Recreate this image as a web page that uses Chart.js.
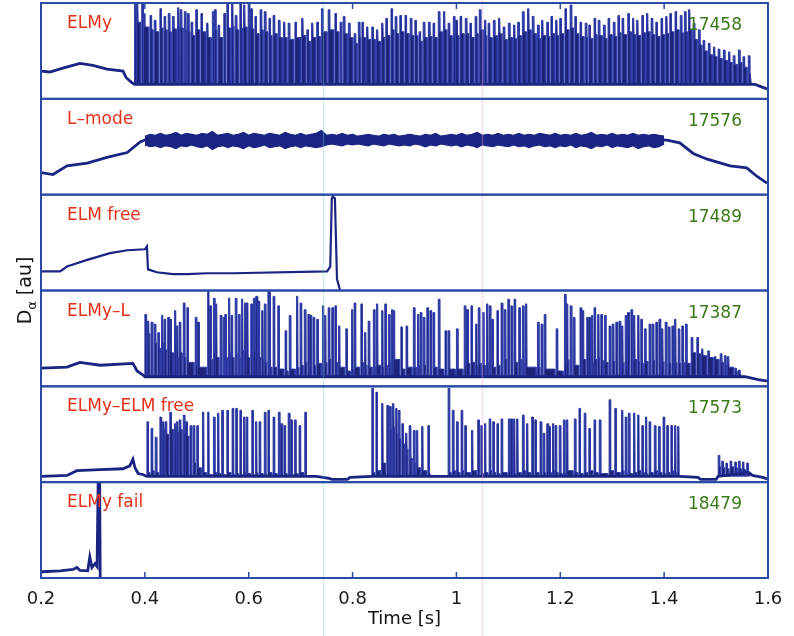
<!DOCTYPE html>
<html>
<head>
<meta charset="utf-8">
<script src="https://cdn.jsdelivr.net/npm/chart.js@4.4.1/dist/chart.umd.min.js"></script>
<style>
  html, body { margin: 0; padding: 0; background: #fff; }
  #wrap { width: 794px; height: 636px; }
</style>
</head>
<body>
<div id="wrap"><canvas id="shots" width="794" height="636"></canvas></div>
<script>
// time axis
const tickValues = [0.2, 0.4, 0.6, 0.8, 1.0, 1.2, 1.4, 1.6];
const tickLabels = ['0.2', '0.4', '0.6', '0.8', '1', '1.2', '1.4', '1.6'];

// panel captions, top to bottom
const panelNames = ['ELMy', 'L\u2013mode', 'ELM free', 'ELMy\u2013L', 'ELMy\u2013ELM free', 'ELMy fail'];
const shotNumbers = ['17458', '17576', '17489', '17387', '17573', '18479'];

// faint scanner streaks [s]
const scanLines = [0.743, 1.049];

// slow traces: [time ms, level 0..1 of panel]
const p1Slow = [[200,0.29],[217,0.28],[242,0.32],[275,0.37],[300,0.35],[327,0.31],[358,0.29],[364,0.22],[375,0.17],[380,0.15],[1566,0.15],[1575,0.15],[1590,0.12],[1600,0.10]];
const p2Slow = [[200,0.23],[223,0.21],[250,0.30],[289,0.33],[327,0.39],[366,0.44],[391,0.55],[404,0.58],[1405,0.57],[1430,0.54],[1456,0.43],[1483,0.37],[1527,0.30],[1559,0.28],[1579,0.19],[1598,0.12]];
const p3Trace = [[201,0.20],[237,0.20],[250,0.25],[289,0.32],[333,0.39],[366,0.42],[400,0.43],[404,0.46],[406,0.22],[423,0.19],[454,0.17],[481,0.17],[520,0.18],[570,0.18],[751,0.20],[757,0.25],[760,0.96],[762,0.98],[766,0.96],[770,0.12],[776,0.0]];
const p4Slow = [[201,0.19],[250,0.20],[275,0.25],[314,0.22],[377,0.24],[385,0.16],[396,0.12],[400,0.10],[1547,0.10],[1556,0.10],[1581,0.07],[1600,0.055]];
const p5Slow = [[201,0.06],[250,0.07],[269,0.12],[314,0.13],[358,0.14],[371,0.17],[377,0.24],[381,0.15],[387,0.09],[396,0.08],[404,0.06],[712,0.06],[730,0.06],[755,0.04],[760,0.03],[790,0.03],[795,0.05],[837,0.06],[1430,0.06],[1465,0.05],[1470,0.03],[1500,0.03],[1504,0.06],[1563,0.10],[1570,0.07],[1590,0.05],[1600,0.03]];
const p6Trace = [[201,0.065],[237,0.075],[262,0.09],[269,0.11],[275,0.08],[290,0.075],[294,0.22],[298,0.11],[304,0.15],[308,0.12],[310,1.0],[313,1.0],[314,0.0]];

// L-mode noisy band (ms, upper edge, lower edge)
const p2BandT = [400,410,420,430,440,450,460,470,480,490,500,510,520,530,540,550,560,570,580,590,600,610,620,630,640,650,660,670,680,690,700,710,720,730,740,750,760,770,780,790,800,810,820,830,840,850,860,870,880,890,900,910,920,930,940,950,960,970,980,990,1000,1010,1020,1030,1040,1050,1060,1070,1080,1090,1100,1110,1120,1130,1140,1150,1160,1170,1180,1190,1200,1210,1220,1230,1240,1250,1260,1270,1280,1290,1300,1310,1320,1330,1340,1350,1360,1370,1380,1390,1400];
const p2Upper = [0.61,0.63,0.62,0.64,0.62,0.63,0.65,0.62,0.64,0.63,0.62,0.64,0.63,0.66,0.62,0.63,0.64,0.62,0.63,0.65,0.62,0.64,0.63,0.62,0.64,0.63,0.62,0.65,0.63,0.62,0.64,0.62,0.63,0.64,0.67,0.62,0.63,0.62,0.64,0.62,0.63,0.61,0.62,0.63,0.62,0.61,0.63,0.62,0.63,0.61,0.62,0.63,0.62,0.61,0.63,0.62,0.64,0.61,0.62,0.63,0.62,0.64,0.62,0.63,0.65,0.62,0.63,0.62,0.64,0.62,0.63,0.62,0.64,0.62,0.63,0.62,0.64,0.63,0.62,0.64,0.62,0.63,0.62,0.64,0.62,0.63,0.65,0.62,0.63,0.62,0.64,0.62,0.63,0.62,0.64,0.62,0.63,0.62,0.63,0.62,0.61];
const p2Lower = [0.52,0.50,0.51,0.49,0.51,0.50,0.48,0.51,0.50,0.52,0.50,0.49,0.51,0.47,0.50,0.51,0.49,0.51,0.50,0.48,0.51,0.49,0.50,0.52,0.49,0.50,0.51,0.48,0.50,0.51,0.49,0.51,0.50,0.49,0.50,0.52,0.53,0.52,0.51,0.53,0.52,0.53,0.52,0.51,0.53,0.52,0.51,0.53,0.52,0.51,0.52,0.51,0.53,0.52,0.50,0.52,0.51,0.53,0.52,0.51,0.52,0.50,0.52,0.51,0.49,0.52,0.51,0.50,0.52,0.51,0.50,0.52,0.50,0.51,0.49,0.51,0.52,0.50,0.51,0.49,0.51,0.50,0.52,0.49,0.51,0.50,0.48,0.51,0.50,0.52,0.49,0.51,0.50,0.49,0.51,0.48,0.50,0.51,0.49,0.50,0.53];

// ELM bursts: time [ms], peak, level the trace sits at after the ELM
const p1Base = 0.15;
const p1Times = [380,384,394,397,410,418,429,437,445,453,463,468,476,482,489,498,508,519,530,534,541,552,558,567,574,583,590,599,604,612,622,630,639,647,657,667,676,689,702,712,721,731,740,753,766,776,782,792,803,811,818,827,837,846,856,864,874,882,891,901,911,920,928,936,946,955,965,975,984,994,999,1007,1017,1026,1036,1044,1054,1061,1071,1081,1090,1100,1110,1118,1127,1137,1146,1156,1164,1174,1182,1191,1199,1209,1219,1228,1238,1248,1255,1265,1273,1283,1292,1302,1311,1319,1330,1339,1347,1357,1366,1375,1384,1394,1403,1411,1421,1431,1439,1447,1456,1466,1475,1485,1495,1504,1514,1524,1533,1543,1552,1562];
const p1Peaks = [1.0,1.0,0.99,0.89,0.87,0.82,0.94,0.86,0.89,0.86,0.95,0.93,0.91,0.89,0.80,0.93,0.89,0.79,0.91,0.93,0.77,0.89,0.99,1.0,0.87,1.0,0.98,1.0,0.94,0.86,0.93,0.91,0.84,0.87,0.82,0.80,0.79,0.80,0.84,0.72,0.79,0.80,0.94,0.93,0.89,0.80,0.86,0.79,0.68,0.80,0.80,0.75,0.75,0.72,0.79,0.84,0.94,0.86,0.87,0.87,0.84,0.82,0.70,0.80,0.80,0.79,0.91,0.91,0.79,0.86,0.82,0.86,0.84,0.79,0.86,0.93,0.82,0.79,0.82,0.84,0.75,0.79,0.77,0.80,0.91,0.94,0.86,0.77,0.82,0.80,0.86,0.82,0.84,0.94,0.98,0.86,0.80,0.79,0.77,0.84,0.82,0.77,0.84,0.80,0.87,0.84,0.89,0.84,0.82,0.87,0.89,0.84,0.80,0.84,0.86,0.89,0.91,0.87,0.91,0.93,0.79,0.72,0.61,0.58,0.54,0.52,0.51,0.49,0.45,0.51,0.44,0.45];
const p1Mass = [0.80,0.80,0.78,0.75,0.72,0.70,0.74,0.72,0.70,0.73,0.76,0.74,0.72,0.70,0.66,0.72,0.70,0.64,0.70,0.72,0.64,0.70,0.74,0.76,0.72,0.74,0.75,0.76,0.73,0.68,0.72,0.70,0.66,0.68,0.64,0.64,0.62,0.64,0.66,0.60,0.64,0.65,0.70,0.72,0.70,0.66,0.68,0.64,0.58,0.64,0.64,0.62,0.62,0.60,0.64,0.66,0.72,0.68,0.70,0.68,0.66,0.66,0.60,0.64,0.65,0.64,0.70,0.72,0.66,0.68,0.66,0.68,0.68,0.64,0.68,0.72,0.66,0.64,0.66,0.68,0.62,0.64,0.63,0.66,0.70,0.72,0.68,0.63,0.66,0.65,0.68,0.66,0.68,0.72,0.74,0.68,0.65,0.64,0.63,0.67,0.66,0.63,0.67,0.65,0.69,0.67,0.70,0.67,0.66,0.69,0.70,0.67,0.65,0.67,0.68,0.70,0.72,0.69,0.70,0.72,0.62,0.56,0.50,0.46,0.44,0.42,0.40,0.38,0.36,0.38,0.33,0.30];

const p4Base = 0.10;
const p4Times = [400,405,412,418,425,432,437,444,448,457,461,466,474,481,497,502,521,525,532,536,545,551,554,561,566,574,580,586,592,596,604,609,614,618,625,630,637,639,647,656,670,678,692,699,707,714,718,724,731,742,746,753,760,766,773,787,798,803,816,823,830,840,846,856,862,869,875,878,893,903,917,925,930,936,943,949,955,965,978,984,1000,1015,1020,1028,1037,1042,1050,1058,1063,1068,1078,1086,1092,1099,1105,1111,1120,1127,1133,1156,1163,1169,1192,1208,1212,1219,1225,1238,1242,1251,1255,1260,1265,1272,1278,1285,1294,1300,1307,1313,1318,1325,1330,1336,1341,1349,1355,1362,1371,1377,1384,1390,1395,1402,1408,1415,1420,1427,1434,1441,1452,1463,1472,1484,1497,1508,1516,1522,1536,1543];
const p4Peaks = [0.75,0.68,0.67,0.65,0.56,0.74,0.70,0.72,0.70,0.79,0.63,0.67,0.87,0.82,0.72,0.67,0.99,0.84,0.92,0.86,0.74,0.72,0.75,0.92,0.74,0.92,0.75,0.91,0.87,0.87,0.86,0.92,0.94,0.89,0.79,0.86,0.99,0.98,0.94,0.84,0.58,0.74,0.94,0.87,0.80,0.75,0.74,0.72,0.70,0.84,0.74,0.82,0.82,0.84,0.63,0.60,0.80,0.87,0.86,0.56,0.68,0.80,0.86,0.79,0.86,0.75,0.80,0.79,0.62,0.63,0.82,0.75,0.77,0.72,0.82,0.79,0.77,0.91,0.58,0.58,0.60,0.84,0.80,0.84,0.65,0.82,0.77,0.86,0.84,0.70,0.79,0.87,0.80,0.91,0.84,0.91,0.82,0.84,0.86,0.67,0.65,0.75,0.60,0.96,0.86,0.84,0.72,0.82,0.79,0.72,0.72,0.74,0.82,0.75,0.75,0.74,0.63,0.65,0.67,0.68,0.63,0.74,0.77,0.80,0.74,0.74,0.70,0.60,0.65,0.65,0.67,0.70,0.60,0.67,0.62,0.63,0.70,0.60,0.63,0.65,0.51,0.51,0.39,0.37,0.31,0.34,0.32,0.31,0.19,0.17];
const p4Mass = [0.30,0.55,0.50,0.45,0.40,0.45,0.38,0.42,0.35,0.40,0.30,0.35,0.30,0.25,0.22,0.20,0.30,0.28,0.35,0.30,0.25,0.28,0.30,0.35,0.30,0.35,0.30,0.38,0.32,0.30,0.35,0.38,0.32,0.30,0.28,0.25,0.22,0.20,0.20,0.18,0.16,0.18,0.20,0.22,0.25,0.22,0.20,0.22,0.24,0.22,0.25,0.28,0.30,0.25,0.20,0.16,0.18,0.20,0.25,0.22,0.20,0.20,0.22,0.20,0.22,0.25,0.30,0.28,0.18,0.20,0.20,0.22,0.20,0.22,0.20,0.18,0.20,0.18,0.16,0.18,0.18,0.22,0.24,0.25,0.22,0.24,0.22,0.25,0.23,0.20,0.22,0.25,0.28,0.25,0.27,0.25,0.28,0.25,0.20,0.20,0.22,0.18,0.16,0.25,0.28,0.25,0.22,0.25,0.28,0.30,0.27,0.25,0.28,0.30,0.27,0.25,0.28,0.26,0.25,0.27,0.25,0.28,0.26,0.25,0.28,0.26,0.24,0.26,0.25,0.27,0.25,0.24,0.26,0.25,0.24,0.26,0.25,0.24,0.25,0.24,0.35,0.34,0.32,0.30,0.28,0.25,0.22,0.20,0.16,0.14];

const p5Base = 0.06;
const p5Times = [404,412,420,429,434,439,448,457,461,466,474,479,487,493,500,511,521,532,540,548,558,568,575,583,590,595,606,613,620,630,637,647,657,662,668,676,681,688,697,708,837,845,856,866,871,877,883,888,895,902,909,917,923,933,945,984,992,1000,1009,1016,1029,1041,1047,1054,1063,1070,1078,1086,1100,1105,1110,1116,1127,1135,1145,1151,1161,1167,1174,1178,1185,1190,1198,1206,1212,1227,1236,1246,1255,1265,1275,1294,1305,1318,1325,1331,1341,1349,1357,1364,1371,1381,1389,1398,1405,1413,1420,1426,1504,1511,1519,1527,1536,1543,1551,1559];
const p5Peaks = [0.63,0.56,0.47,0.68,0.63,0.63,0.73,0.61,0.63,0.65,0.70,0.63,0.59,0.59,0.59,0.73,0.73,0.68,0.72,0.75,0.75,0.77,0.77,0.75,0.68,0.68,0.75,0.63,0.63,0.73,0.75,0.68,0.73,0.61,0.59,0.72,0.65,0.65,0.59,0.73,0.98,0.94,0.82,0.80,0.79,0.82,0.77,0.75,0.61,0.51,0.59,0.54,0.54,0.58,0.59,0.98,0.75,0.63,0.75,0.59,0.54,0.65,0.59,0.61,0.66,0.63,0.61,0.66,0.66,0.66,0.66,0.66,0.70,0.61,0.68,0.65,0.63,0.51,0.61,0.58,0.61,0.59,0.59,0.65,0.65,0.66,0.77,0.72,0.56,0.65,0.65,0.86,0.77,0.75,0.68,0.72,0.72,0.70,0.59,0.68,0.63,0.59,0.58,0.68,0.59,0.59,0.59,0.58,0.28,0.22,0.20,0.22,0.21,0.22,0.21,0.20];
const p5Mass = [0.10,0.12,0.10,0.55,0.55,0.50,0.55,0.50,0.52,0.55,0.50,0.48,0.30,0.20,0.15,0.10,0.08,0.10,0.09,0.08,0.10,0.08,0.09,0.08,0.10,0.09,0.08,0.10,0.09,0.08,0.10,0.09,0.08,0.10,0.09,0.10,0.08,0.09,0.10,0.08,0.10,0.12,0.20,0.35,0.55,0.57,0.50,0.45,0.40,0.35,0.25,0.20,0.15,0.12,0.10,0.10,0.12,0.10,0.12,0.10,0.12,0.10,0.09,0.10,0.12,0.10,0.09,0.10,0.12,0.10,0.09,0.10,0.12,0.10,0.09,0.10,0.12,0.10,0.09,0.10,0.12,0.10,0.09,0.10,0.12,0.10,0.09,0.10,0.12,0.10,0.09,0.12,0.10,0.12,0.10,0.09,0.10,0.12,0.10,0.09,0.10,0.12,0.10,0.09,0.10,0.12,0.10,0.08,0.16,0.15,0.14,0.16,0.15,0.14,0.13,0.12];

// colours
const NAVY = '#1b2483';
const SPIKE = '#2f3ca8';
const MASS = '#1d2377';
const FRAME = '#2b4aa6';
const RED = '#e5301c';
const GREEN = '#3a7a18';

const ELM_W = 0.0025;  // width of an ELM flash, s
const SLIT = 0.0025;   // short quiet gap before each ELM, s

function pairs(list) {
  return list.map(p => ({ x: p[0] / 1000, y: p[1] }));
}

function band(times, vals) {
  return times.map((t, i) => ({ x: t / 1000, y: vals[i] }));
}

// turn ELM list into a polyline: rise, flash, burst level, quiet slit before next one
function elmPoints(times, peaks, mass, base) {
  const pts = [];
  for (let i = 0; i < times.length; i++) {
    const t = times[i] / 1000;
    pts.push({ x: t, y: base }, { x: t, y: peaks[i] }, { x: t + ELM_W, y: peaks[i] }, { x: t + ELM_W + 0.0005, y: mass[i] });
    const next = times[i + 1];
    if (next === undefined) {
      pts.push({ x: t + 0.006, y: base });
      break;
    }
    if (next - times[i] > 30) {
      pts.push({ x: t + 0.006, y: base }, { x: t + 0.007, y: null });
      continue;
    }
    const s = Math.max(t + ELM_W + 0.001, next / 1000 - SLIT);
    pts.push({ x: s, y: mass[i] }, { x: s, y: base });
  }
  return pts;
}

const panelIds = ['y1', 'y2', 'y3', 'y4', 'y5', 'y6'];

const yScales = {};
panelIds.forEach((id, i) => {
  yScales[id] = {
    type: 'linear',
    position: 'left',
    stack: 'panels',
    stackWeight: 1,
    weight: panelIds.length - i,
    min: 0,
    max: 1,
    display: false
  };
});

const slowLine = { borderColor: NAVY, borderWidth: 2.8, fill: false };
const elmLine = { borderColor: SPIKE, borderWidth: 1, backgroundColor: MASS };

const datasets = [
  Object.assign({ data: pairs(p1Slow), yAxisID: 'y1' }, slowLine),
  Object.assign({ data: elmPoints(p1Times, p1Peaks, p1Mass, p1Base), yAxisID: 'y1', fill: { value: p1Base } }, elmLine),
  { data: band(p2BandT, p2Upper), yAxisID: 'y2', borderColor: NAVY, borderWidth: 1.2, backgroundColor: NAVY, fill: '+1' },
  { data: band(p2BandT, p2Lower), yAxisID: 'y2', borderColor: NAVY, borderWidth: 1.2, fill: false },
  Object.assign({ data: pairs(p2Slow), yAxisID: 'y2' }, slowLine),
  Object.assign({ data: pairs(p3Trace), yAxisID: 'y3' }, slowLine, { borderWidth: 2.2 }),
  Object.assign({ data: pairs(p4Slow), yAxisID: 'y4' }, slowLine),
  Object.assign({ data: elmPoints(p4Times, p4Peaks, p4Mass, p4Base), yAxisID: 'y4', fill: { value: p4Base } }, elmLine),
  Object.assign({ data: pairs(p5Slow), yAxisID: 'y5' }, slowLine),
  Object.assign({ data: elmPoints(p5Times, p5Peaks, p5Mass, p5Base), yAxisID: 'y5', fill: { value: p5Base } }, elmLine),
  Object.assign({ data: pairs(p6Trace), yAxisID: 'y6' }, slowLine)
];

const panelDecor = {
  id: 'panelDecor',
  afterDatasetsDraw(chart) {
    const { ctx, chartArea: a, scales } = chart;
    const x = scales.x;
    ctx.save();

    // scanner streaks
    ctx.lineWidth = 1.5;
    scanLines.forEach((t, i) => {
      const px = Math.round(x.getPixelForValue(t)) + 0.5;
      ctx.strokeStyle = i === 0 ? 'rgba(110,200,200,0.35)' : 'rgba(220,160,220,0.35)';
      ctx.beginPath();
      ctx.moveTo(px, 0);
      ctx.lineTo(px, chart.height);
      ctx.stroke();
    });

    // panel frames and captions
    ctx.strokeStyle = FRAME;
    ctx.lineWidth = 2;
    panelIds.forEach((id, i) => {
      const s = scales[id];
      ctx.strokeRect(a.left, s.top, a.right - a.left, s.bottom - s.top);
      ctx.font = '17px "DejaVu Sans"';
      ctx.textBaseline = 'alphabetic';
      ctx.fillStyle = RED;
      ctx.textAlign = 'left';
      ctx.fillText(panelNames[i], a.left + 26, s.top + 25);
      ctx.fillStyle = GREEN;
      ctx.textAlign = 'right';
      ctx.fillText(shotNumbers[i], a.right - 26, s.top + 27);
    });

    // inward ticks on outer edges
    const top = scales.y1.top;
    const bottom = scales.y6.bottom;
    ctx.lineWidth = 1.5;
    ctx.beginPath();
    tickValues.slice(1, -1).forEach(v => {
      const px = x.getPixelForValue(v);
      ctx.moveTo(px, top);
      ctx.lineTo(px, top + 6);
      ctx.moveTo(px, bottom);
      ctx.lineTo(px, bottom - 6);
    });
    ctx.stroke();

    // y title  D_alpha [au]
    ctx.translate(31, (a.top + a.bottom) / 2);
    ctx.rotate(-Math.PI / 2);
    const big = '19px "DejaVu Sans"';
    const small = '13px "DejaVu Sans"';
    ctx.font = big;
    const wD = ctx.measureText('D').width;
    const wRest = ctx.measureText(' [au]').width;
    ctx.font = small;
    const wA = ctx.measureText('\u03b1').width;
    let cx = -(wD + wA + wRest) / 2;
    ctx.fillStyle = '#151515';
    ctx.textAlign = 'left';
    ctx.font = big;
    ctx.fillText('D', cx, 0);
    cx += wD;
    ctx.font = small;
    ctx.fillText('\u03b1', cx, 5);
    cx += wA;
    ctx.font = big;
    ctx.fillText(' [au]', cx, 0);

    ctx.restore();
  }
};

new Chart(document.getElementById('shots').getContext('2d'), {
  type: 'line',
  data: { datasets: datasets },
  options: {
    responsive: false,
    animation: false,
    devicePixelRatio: 1,
    layout: { padding: { left: 41, right: 26, top: 3, bottom: 0 } },
    elements: {
      point: { radius: 0 },
      line: { tension: 0 }
    },
    spanGaps: false,
    plugins: {
      legend: { display: false },
      tooltip: { enabled: false }
    },
    scales: Object.assign({
      x: {
        type: 'linear',
        position: 'bottom',
        min: 0.2,
        max: 1.6,
        afterBuildTicks: s => { s.ticks = tickValues.map(v => ({ value: v })); },
        afterFit: s => { s.height = 58; },
        grid: { display: false },
        border: { display: false },
        ticks: {
          autoSkip: false,
          maxRotation: 0,
          padding: 3,
          color: '#1a1a1a',
          font: { family: 'DejaVu Sans', size: 18 },
          callback: (v, i) => tickLabels[i]
        },
        title: {
          display: true,
          text: 'Time [s]',
          color: '#111',
          font: { family: 'DejaVu Sans', size: 18 },
          padding: { top: 0, bottom: 6 }
        }
      }
    }, yScales)
  },
  plugins: [panelDecor]
});
</script>
</body>
</html>
